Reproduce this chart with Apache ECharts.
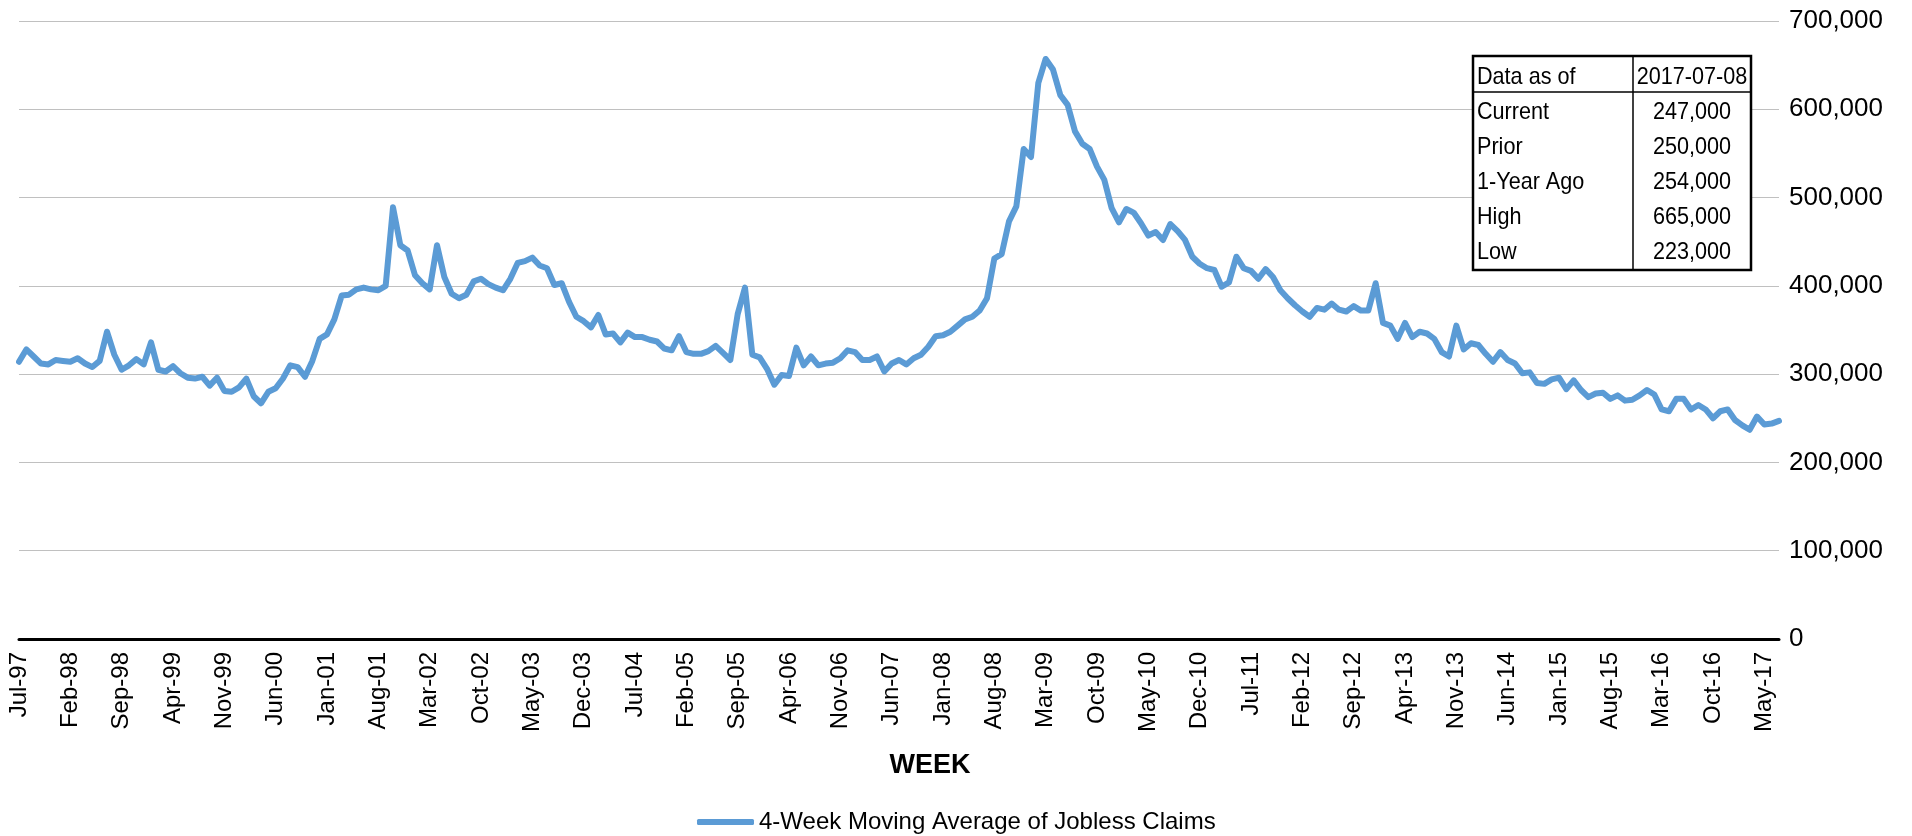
<!DOCTYPE html>
<html>
<head>
<meta charset="utf-8">
<title>Jobless Claims</title>
<script src="https://cdn.jsdelivr.net/npm/echarts/dist/echarts.min.js"></script>
<style>
    html, body { margin: 0; padding: 0; background: #fff; }
    #echt-line1 { width: 1912px; height: 836px; }
</style>
</head>
<body>
<div id="echt-line1"></div>
<script>
// 4-week moving average, thousands, one value per month from Jul-97
var claims1997 = [
    314, 328, 320, 312, 311, 316, 315, 314, 318, 312, 308, 315,
    348, 322, 305, 310, 317, 311, 336, 305, 303, 309, 301, 296,
    295, 297, 287, 296, 281, 280, 285, 295, 275, 267, 280, 284,
    295, 310, 308, 297, 315, 340, 345, 362, 389, 390, 396, 398,
    396, 395, 400, 489, 446, 440, 412, 403, 396, 446, 410, 391
];
var claims2002 = [
    386, 390, 405, 408, 402, 398, 395, 408, 426, 428, 432, 423,
    420, 401, 403, 382, 365, 360, 353, 367, 345, 346, 336, 347,
    342, 342, 339, 337, 329, 327, 343, 325, 323, 323, 326, 332,
    324, 316, 368, 398, 322, 319, 306, 288, 299, 298, 330, 310,
    320, 310, 312, 313, 318, 327, 325, 316, 316, 320, 303, 312
];
var claims2007 = [
    316, 311, 318, 322, 331, 343, 344, 348, 355, 362, 365, 372,
    386, 431, 436, 473, 490, 555, 546, 630, 657, 645, 616, 605,
    575, 561, 555, 535, 520, 488, 472, 487, 483, 471, 457, 461,
    452, 470, 462, 452, 433, 425, 420, 418, 399, 404, 433, 420,
    417, 408, 419, 410, 395, 386, 378, 371, 365, 375, 373, 380
];
var claims2012 = [
    373, 371, 377, 372, 372, 403, 358, 355, 340, 358, 342, 348,
    346, 340, 325, 320, 355, 328, 335, 333, 323, 314, 325, 316,
    312, 301, 302, 290, 289, 294, 296, 283, 293, 282, 274, 278,
    279, 272, 276, 270, 271, 276, 282, 277, 260, 258, 272, 272,
    260, 265, 260, 250, 258, 260, 248, 242, 237, 252, 243, 244,
    247
];
var monthNames = ['Jan', 'Feb', 'Mar', 'Apr', 'May', 'Jun', 'Jul', 'Aug', 'Sep', 'Oct', 'Nov', 'Dec'];
var yTicks = [0, 100000, 200000, 300000, 400000, 500000, 600000, 700000];
var tableHead = ['Data as of', '2017-07-08'];
var tableLabels = ['Current', 'Prior', '1-Year Ago', 'High', 'Low'];
var tableValues = ['247,000', '250,000', '254,000', '665,000', '223,000'];
var seriesName = '4-Week Moving Average of Jobless Claims';

var Page = {
    init: function () {
        var weeks = buildWeeks(claims1997.length + claims2002.length + claims2007.length + claims2012.length);
        var values = claims1997.concat(claims2002, claims2007, claims2012).map(function (v) { return v * 1000; });
        drawChart(weeks, values);
    }
};

function buildWeeks(n) {
    var list = new Array();
    for (var i = 0; i < n; i++) {
        var m = (6 + i) % 12;
        var y = (1997 + Math.floor((6 + i) / 12)) % 100;
        list.push(monthNames[m] + '-' + (y < 10 ? '0' + y : '' + y));
    }
    return list;
}

function fmt(v) {
    return String(v).replace(/\B(?=(\d{3})+(?!\d))/g, ',');
}

function cellText(txt, x, y, align) {
    return {
        type: 'text', x: x, y: y, scaleX: 0.9, z: 102,
        style: {
            text: txt, fontSize: 24, fontFamily: 'Liberation Sans, Arial', fill: '#000',
            align: align, verticalAlign: 'middle', textAlign: align, textVerticalAlign: 'middle'
        }
    };
}

function tableGraphic() {
    var x0 = 1473, x1 = 1633, x2 = 1751, top = 56, head = 92, bottom = 270;
    var els = [];
    els.push({ type: 'rect', z: 100, shape: { x: x0, y: top, width: x2 - x0, height: bottom - top },
        style: { fill: '#fff', stroke: '#000', lineWidth: 2.5 } });
    els.push({ type: 'line', z: 101, shape: { x1: x1, y1: top, x2: x1, y2: bottom }, style: { stroke: '#000', lineWidth: 1.5 } });
    els.push({ type: 'line', z: 101, shape: { x1: x0, y1: head, x2: x2, y2: head }, style: { stroke: '#000', lineWidth: 1.5 } });

    var rows = [[tableHead[0], tableHead[1]]];
    for (var i = 0; i < tableLabels.length; i++) {
        rows.push([tableLabels[i], tableValues[i]]);
    }
    var cy = [77, 112, 147, 182, 217, 252];
    for (var r = 0; r < rows.length; r++) {
        els.push(cellText(rows[r][0], x0 + 4, cy[r], 'left'));
        els.push(cellText(rows[r][1], (x1 + x2) / 2, cy[r], 'center'));
    }
    return { type: 'group', z: 100, children: els };
}

function drawChart(weeks, values) {
    var myChart1 = echarts.init(document.getElementById('echt-line1'));
    var option1 = {
        animation: false,
        backgroundColor: '#fff',
        textStyle: { fontFamily: 'Liberation Sans, Arial' },
        grid: { left: 19, right: 133, top: 21, bottom: 197, containLabel: false },
        legend: {
            data: [seriesName],
            left: 692,
            top: 805,
            icon: 'roundRect',
            itemWidth: 57,
            itemHeight: 6,
            textStyle: { fontSize: 24, color: '#000', fontFamily: 'Liberation Sans, Arial' }
        },
        xAxis: {
            type: 'category',
            data: weeks,
            boundaryGap: false,
            axisLine: { show: true, lineStyle: { color: '#000', width: 3 } },
            axisTick: { show: false },
            axisLabel: {
                interval: 6,
                rotate: 90,
                margin: 13,
                fontSize: 24,
                color: '#000',
                fontFamily: 'Liberation Sans, Arial'
            },
            splitLine: { show: false }
        },
        yAxis: {
            type: 'value',
            position: 'right',
            min: yTicks[0],
            max: yTicks[yTicks.length - 1],
            interval: yTicks[1] - yTicks[0],
            axisLine: { show: false },
            axisTick: { show: false },
            axisLabel: {
                margin: 10,
                fontSize: 26,
                color: '#000',
                align: 'left',
                fontFamily: 'Liberation Sans, Arial',
                formatter: function (v) { return fmt(v); }
            },
            splitLine: { show: true, lineStyle: { color: '#c0c0c0', width: 1.2 } }
        },
        graphic: [
            tableGraphic(),
            { type: 'text', x: 930, y: 766, z: 100,
              style: { text: 'WEEK', fontSize: 27, fontWeight: 'bold', fontFamily: 'Liberation Sans, Arial', fill: '#000',
                  align: 'center', verticalAlign: 'middle', textAlign: 'center', textVerticalAlign: 'middle' } }
        ],
        series: [{
            name: seriesName,
            type: 'line',
            data: values,
            symbol: 'none',
            smooth: false,
            lineStyle: { color: '#5b9bd5', width: 6, cap: 'round', join: 'round' },
            itemStyle: { color: '#5b9bd5' }
        }]
    };
    myChart1.setOption(option1);
}

Page.init();
</script>
</body>
</html>
